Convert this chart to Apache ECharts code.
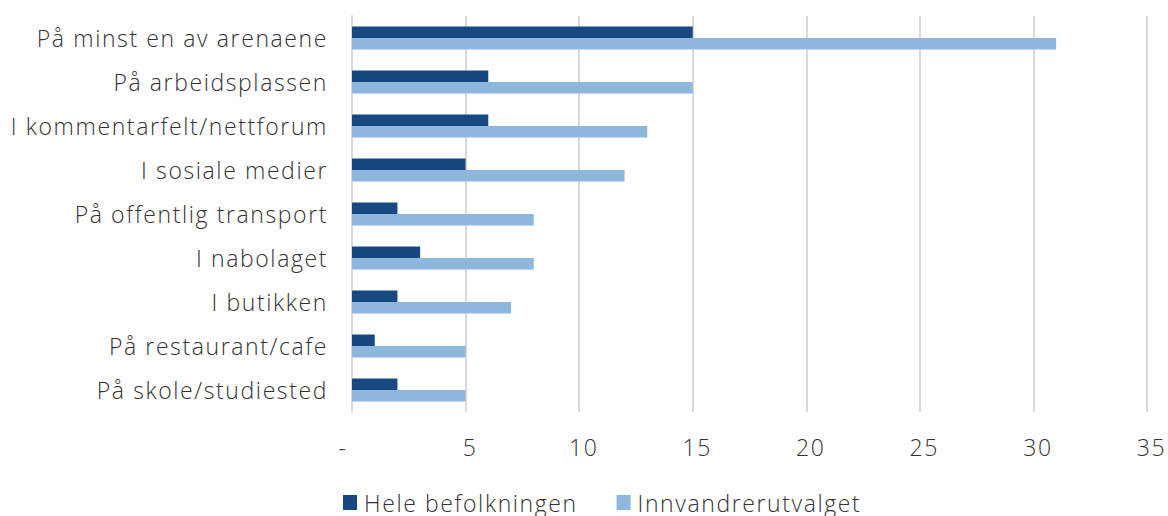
<!DOCTYPE html>
<html>
<head>
<meta charset="utf-8">
<script src="https://cdn.jsdelivr.net/npm/echarts@6/dist/echarts.min.js"></script>
<style>
  html, body { margin: 0; padding: 0; background: #ffffff; }
  #chart { width: 1168px; height: 516px; }
  /* airy, widely tracked light type */
  #chart svg text { letter-spacing: 1.6px; }
</style>
</head>
<body>
<div id="chart"></div>
<script>
// Arenas, top to bottom
const categories = [
  'På minst en av arenaene',
  'På arbeidsplassen',
  'I kommentarfelt/nettforum',
  'I sosiale medier',
  'På offentlig transport',
  'I nabolaget',
  'I butikken',
  'På restaurant/cafe',
  'På skole/studiested'
];
const seriesNames = ['Hele befolkningen', 'Innvandrerutvalget'];
const heleBefolkningen = [15, 6, 6, 5, 2, 3, 2, 1, 2];
const innvandrerutvalget = [31, 15, 13, 12, 8, 8, 7, 5, 5];

const FONT = '"Open Sans", Lato, sans-serif';
const W = 300;
const SIZE = 23;
const TEXT = '#333333';

const chart = echarts.init(document.getElementById('chart'), null, { renderer: 'svg' });
chart.setOption({
  animation: false,
  textStyle: { fontFamily: FONT },
  grid: { left: 352, right: 21, top: 16, bottom: 104, containLabel: false },
  legend: {
    data: seriesNames,
    left: 343,
    top: 491,
    padding: 0,
    itemWidth: 14,
    itemHeight: 15,
    itemGap: 66,
    icon: 'rect',
    textStyle: { fontFamily: FONT, fontWeight: W, fontSize: SIZE, color: TEXT, padding: [0, 0, 0, 2] }
  },
  xAxis: {
    type: 'value',
    min: 0,
    max: 35,
    interval: 5,
    axisLine: { show: false },
    axisTick: { show: false },
    splitLine: { lineStyle: { color: '#d9d9d9', width: 2 } },
    axisLabel: {
      margin: 23,
      formatter: v => (v === 0 ? '{z|-}' : '{n|' + v + '}'),
      rich: {
        z: { fontFamily: FONT, fontWeight: W, fontSize: SIZE, color: TEXT, padding: [0, 18, 0, 0] },
        n: { fontFamily: FONT, fontWeight: W, fontSize: SIZE, color: TEXT, padding: [0, 0, 0, 9] }
      }
    }
  },
  yAxis: {
    type: 'category',
    data: categories,
    inverse: true,
    axisLine: { show: true, lineStyle: { color: '#d9d9d9', width: 2 } },
    axisTick: { show: false },
    axisLabel: {
      margin: 24,
      fontFamily: FONT,
      fontWeight: W,
      fontSize: SIZE,
      color: TEXT
    }
  },
  series: [
    {
      name: seriesNames[0],
      type: 'bar',
      data: heleBefolkningen,
      barWidth: 11.5,
      barGap: '0%',
      itemStyle: { color: '#17487f' }
    },
    {
      name: seriesNames[1],
      type: 'bar',
      data: innvandrerutvalget,
      barWidth: 11.5,
      barGap: '0%',
      itemStyle: { color: '#8db7dc' }
    }
  ]
});
</script>
</body>
</html>
